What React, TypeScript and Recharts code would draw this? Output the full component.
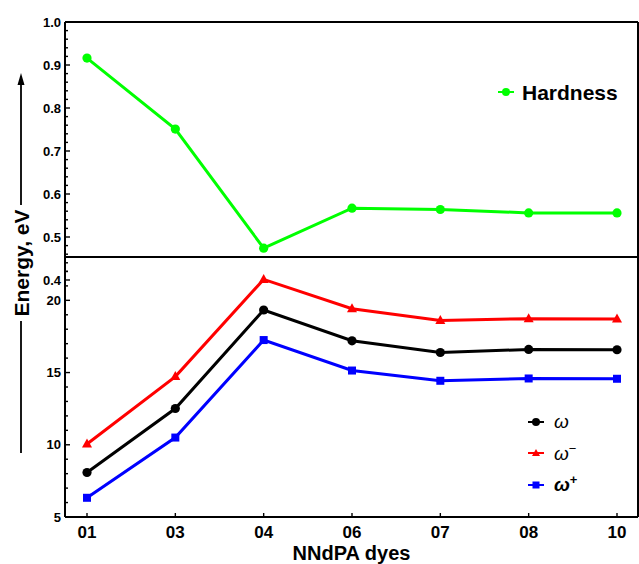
import React from 'react';
import { LineChart, Line, XAxis, YAxis, Legend, Label } from 'recharts';

const dyes = ['01', '03', '04', '06', '07', '08', '10'];
const hardness = [0.916, 0.751, 0.474, 0.567, 0.564, 0.556, 0.556];
const omega = [8.08, 12.51, 19.33, 17.2, 16.39, 16.6, 16.58];
const omegaMinus = [10.05, 14.72, 21.45, 19.42, 18.6, 18.73, 18.7];
const omegaPlus = [6.33, 10.5, 17.25, 15.14, 14.43, 14.59, 14.57];

const hardnessLabels = [0.4, 0.5, 0.6, 0.7, 0.8, 0.9, 1.0];
const hardnessTicks = [
  0.4, 0.42, 0.44, 0.46, 0.48, 0.5, 0.52, 0.54, 0.56, 0.58, 0.6, 0.62, 0.64, 0.66, 0.68,
  0.7, 0.72, 0.74, 0.76, 0.78, 0.8, 0.82, 0.84, 0.86, 0.88, 0.9, 0.92, 0.94, 0.96, 0.98, 1.0,
];
const energyLabels = [5, 10, 15, 20];
const energyTicks = [5, 6, 7, 8, 9, 10, 11, 12, 13, 14, 15, 16, 17, 18, 19, 20, 21, 22];

const data = dyes.map((dye, i) => ({
  dye,
  hardness: hardness[i],
  omega: omega[i],
  omegaMinus: omegaMinus[i],
  omegaPlus: omegaPlus[i],
}));

const FONT = "'Liberation Sans', Arial, Helvetica, sans-serif";
const W = 639;
const H = 564;
const GREEN = '#00ff00';
const RED = '#ff0000';
const BLUE = '#0000ff';
const BLACK = '#000000';

// plot frame (both panels share the x range)
const LEFT = 65;
const RIGHT_MARGIN = 1;
const TOP_PANEL_TOP = 22;
const TOP_PANEL_BOTTOM = 280;
const BOTTOM_PANEL_TOP = 257;
const BOTTOM_PANEL_BOTTOM = 517;
const X_AXIS_H = 30;

function makeYTick(labels: number[], digits: number) {
  return (props: any) => {
    const { x, y, payload } = props;
    const v = payload.value;
    const major = labels.some((l) => Math.abs(l - v) < 1e-6);
    return (
      <g>
        <line x1={x} x2={x + (major ? 5 : 3)} y1={y} y2={y} stroke={BLACK} strokeWidth={1.4} />
        {major && (
          <text x={x - 4} y={y} dy="0.36em" textAnchor="end" fontFamily={FONT} fontWeight="bold" fontSize={13} fill={BLACK}>
            {v.toFixed(digits)}
          </text>
        )}
      </g>
    );
  };
}

const XTick = (props: any) => {
  const { x, y, payload } = props;
  return (
    <g>
      <line x1={x} x2={x} y1={y} y2={y - 4} stroke={BLACK} strokeWidth={1.4} />
      <text x={x} y={y + 21} textAnchor="middle" fontFamily={FONT} fontWeight="bold" fontSize={17} fill={BLACK}>
        {payload.value}
      </text>
    </g>
  );
};

const circleDot = (color: string) => (props: any) => {
  const { cx, cy, index } = props;
  return <circle key={`c${color}${index}`} cx={cx} cy={cy} r={4.6} fill={color} />;
};

const triangleDot = (props: any) => {
  const { cx, cy, index } = props;
  return <path key={`t${index}`} d={`M${cx},${cy - 5.5} L${cx + 5},${cy + 3.5} L${cx - 5},${cy + 3.5} Z`} fill={RED} />;
};

const squareDot = (props: any) => {
  const { cx, cy, index } = props;
  return <rect key={`s${index}`} x={cx - 4} y={cy - 4} width={8} height={8} fill={BLUE} />;
};

function marker(key: string, color: string) {
  if (key === 'omegaMinus') return <path d="M8,2 L12,9 L4,9 Z" fill={color} />;
  if (key === 'omegaPlus') return <rect x={4.5} y={2.5} width={7} height={7} fill={color} />;
  return <circle cx={8} cy={6} r={4} fill={color} />;
}

function legendText(key: string) {
  const sup = { fontSize: 13, verticalAlign: 'super', lineHeight: 0, fontStyle: 'normal' } as React.CSSProperties;
  if (key === 'hardness') return <span style={{ fontWeight: 'bold', fontSize: 21 }}>Hardness</span>;
  if (key === 'omegaMinus')
    return (
      <span style={{ fontStyle: 'italic', fontSize: 19 }}>
        ω<span style={sup}>−</span>
      </span>
    );
  if (key === 'omegaPlus')
    return (
      <span style={{ fontStyle: 'italic', fontWeight: 'bold', fontSize: 19 }}>
        ω<span style={{ ...sup, fontWeight: 'bold' }}>+</span>
      </span>
    );
  return <span style={{ fontStyle: 'italic', fontSize: 19 }}>ω</span>;
}

const renderLegend = (rowHeight: number, gap: number) => (props: any) => {
  const { payload } = props;
  const order = ['hardness', 'omega', 'omegaMinus', 'omegaPlus'];
  const items = [...payload].sort((a: any, b: any) => order.indexOf(a.dataKey) - order.indexOf(b.dataKey));
  return (
    <div style={{ fontFamily: FONT, color: BLACK }}>
      {items.map((item: any) => (
        <div key={item.dataKey} style={{ display: 'flex', alignItems: 'center', height: rowHeight }}>
          <svg width={16} height={12} style={{ display: 'block' }}>
            <line x1={0} x2={16} y1={6} y2={6} stroke={item.color} strokeWidth={2} />
            {marker(item.dataKey, item.color)}
          </svg>
          <span style={{ marginLeft: gap, lineHeight: 1 }}>{legendText(item.dataKey)}</span>
        </div>
      ))}
    </div>
  );
};

// axis title with arrows, plus the two-panel frame
const yTitle = () => {
  const right = W - RIGHT_MARGIN;
  return (
    <g>
      <g stroke={BLACK} strokeWidth={2} fill="none">
        <line x1={LEFT} x2={LEFT} y1={TOP_PANEL_TOP} y2={BOTTOM_PANEL_BOTTOM} />
        <line x1={right} x2={right} y1={TOP_PANEL_TOP} y2={BOTTOM_PANEL_BOTTOM} />
        <line x1={LEFT} x2={right} y1={TOP_PANEL_TOP} y2={TOP_PANEL_TOP} />
        <line x1={LEFT} x2={right} y1={BOTTOM_PANEL_TOP} y2={BOTTOM_PANEL_TOP} />
        <line x1={LEFT} x2={right} y1={BOTTOM_PANEL_BOTTOM} y2={BOTTOM_PANEL_BOTTOM} />
      </g>
      <line x1={21} x2={21} y1={205} y2={82} stroke={BLACK} strokeWidth={1.8} />
      <path d="M21,73 L17.5,85 L24.5,85 Z" fill={BLACK} />
      <text
        transform="rotate(-90 21 263)"
        x={21}
        y={263}
        dy="0.36em"
        textAnchor="middle"
        fontFamily={FONT}
        fontWeight="bold"
        fontSize={21}
        fill={BLACK}
      >
        Energy, eV
      </text>
      <line x1={21} x2={21} y1={321} y2={453} stroke={BLACK} strokeWidth={1.8} />
    </g>
  );
};

const xTitle = (props: any) => {
  const { viewBox } = props;
  return (
    <text x={viewBox.x + viewBox.width / 2} y={560} textAnchor="middle" fontFamily={FONT} fontWeight="bold" fontSize={20} fill={BLACK}>
      NNdPA dyes
    </text>
  );
};

export default function App() {
  return (
    <div style={{ position: 'absolute', left: 0, top: 0, width: W, height: H, background: '#fff' }}>
      <div style={{ position: 'absolute', left: 0, top: 0 }}>
        <LineChart
          width={W}
          height={H}
          data={data}
          margin={{ top: TOP_PANEL_TOP, right: RIGHT_MARGIN, bottom: H - TOP_PANEL_BOTTOM, left: 0 }}
        >
          <XAxis dataKey="dye" hide padding={{ left: 22, right: 21 }} />
          <YAxis
            domain={[0.4, 1.0]}
            ticks={hardnessTicks}
            interval={0}
            width={LEFT}
            tickSize={0}
            tickMargin={0}
            tickLine={false}
            axisLine={false}
            tick={makeYTick(hardnessLabels, 1)}
            allowDataOverflow
          >
            <Label content={yTitle} />
          </YAxis>
          <Legend
            layout="vertical"
            align="center"
            verticalAlign="middle"
            content={renderLegend(30, 8)}
            wrapperStyle={{ left: 498, top: 77, width: 'auto' }}
          />
          <Line
            type="linear"
            dataKey="hardness"
            name="Hardness"
            stroke={GREEN}
            strokeWidth={3}
            dot={circleDot(GREEN)}
            activeDot={false}
            isAnimationActive={false}
          />
        </LineChart>
      </div>
      <div style={{ position: 'absolute', left: 0, top: 0 }}>
        <LineChart
          width={W}
          height={H}
          data={data}
          margin={{ top: BOTTOM_PANEL_TOP, right: RIGHT_MARGIN, bottom: H - BOTTOM_PANEL_BOTTOM - X_AXIS_H, left: 0 }}
        >
          <XAxis
            dataKey="dye"
            height={X_AXIS_H}
            tickSize={0}
            tickMargin={0}
            tickLine={false}
            axisLine={false}
            tick={XTick}
            interval={0}
            padding={{ left: 22, right: 21 }}
          >
            <Label content={xTitle} />
          </XAxis>
          <YAxis
            domain={[5, 23]}
            ticks={energyTicks}
            interval={0}
            width={LEFT}
            tickSize={0}
            tickMargin={0}
            tickLine={false}
            axisLine={false}
            tick={makeYTick(energyLabels, 0)}
            allowDataOverflow
          />
          <Legend
            layout="vertical"
            align="center"
            verticalAlign="middle"
            content={renderLegend(31.5, 10)}
            wrapperStyle={{ left: 528, top: 406, width: 'auto' }}
          />
          <Line
            type="linear"
            dataKey="omega"
            name="ω"
            stroke={BLACK}
            strokeWidth={3}
            dot={circleDot(BLACK)}
            activeDot={false}
            isAnimationActive={false}
          />
          <Line
            type="linear"
            dataKey="omegaMinus"
            name="ω−"
            stroke={RED}
            strokeWidth={3}
            dot={triangleDot}
            activeDot={false}
            isAnimationActive={false}
          />
          <Line
            type="linear"
            dataKey="omegaPlus"
            name="ω+"
            stroke={BLUE}
            strokeWidth={3}
            dot={squareDot}
            activeDot={false}
            isAnimationActive={false}
          />
        </LineChart>
      </div>
    </div>
  );
}
